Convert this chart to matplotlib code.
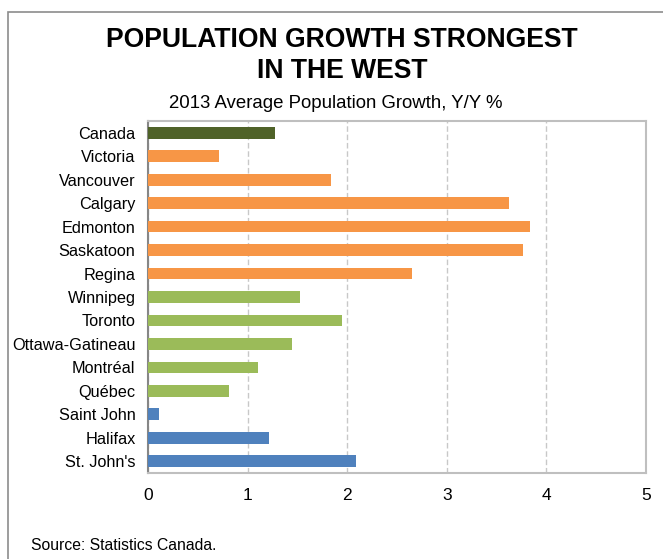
import matplotlib
matplotlib.use('Agg')
import matplotlib.pyplot as plt
from matplotlib.patches import Rectangle

plt.rcParams['font.family'] = ['Liberation Sans', 'DejaVu Sans']

# Cities top to bottom, with 2013 y/y population growth (%)
cities = ["Canada", "Victoria", "Vancouver", "Calgary", "Edmonton", "Saskatoon",
          "Regina", "Winnipeg", "Toronto", "Ottawa-Gatineau", "Montréal",
          "Québec", "Saint John", "Halifax", "St. John's"]
growth = [1.28, 0.71, 1.84, 3.62, 3.84, 3.77, 2.65, 1.53, 1.95, 1.45, 1.10,
          0.81, 0.11, 1.21, 2.09]
region = ["national", "west", "west", "west", "west", "west", "west",
          "central", "central", "central", "central", "central",
          "atlantic", "atlantic", "atlantic"]
xticks = [0, 1, 2, 3, 4, 5]

REGION_COLORS = {
    "national": "#4F6228",
    "west": "#F79646",
    "central": "#9BBB59",
    "atlantic": "#4F81BD",
}

fig = plt.figure(figsize=(6.63, 5.59), dpi=100)
ax = fig.add_axes([148 / 663, 1 - 473 / 559, 498 / 663, 352 / 559])

ypos = list(range(len(cities)))
ax.barh(ypos, growth, height=0.5, color=[REGION_COLORS[r] for r in region], zorder=3)

ax.set_ylim(len(cities) - 0.5, -0.5)
ax.set_xlim(0, 5)
ax.set_yticks(ypos)
ax.set_yticklabels(cities, fontsize=11.7)
ax.set_xticks(xticks)
ax.set_xticklabels([str(t) for t in xticks], fontsize=12.5)
ax.tick_params(axis='both', length=0)
ax.tick_params(axis='y', pad=9)
ax.tick_params(axis='x', pad=11)

ax.xaxis.grid(True, linestyle=(0, (4, 2)), color='#C8C8C8', linewidth=1, zorder=0)
ax.yaxis.grid(False)
for side in ['top', 'right', 'bottom']:
    ax.spines[side].set_color('#BFBFBF')
    ax.spines[side].set_linewidth(1.5)
ax.spines['left'].set_color('#868686')
ax.spines['left'].set_linewidth(1.5)

fig.text(0.516, 1 - 40 / 559, "POPULATION GROWTH STRONGEST",
         ha='center', va='center', fontsize=19.1, fontweight='bold')
fig.text(0.516, 1 - 71 / 559, "IN THE WEST",
         ha='center', va='center', fontsize=19.1, fontweight='bold')
fig.text(0.506, 1 - 104 / 559, "2013 Average Population Growth, Y/Y %",
         ha='center', va='center', fontsize=13.4)
fig.text(31 / 663, 1 - 545 / 559, "Source: Statistics Canada.",
         ha='left', va='center', fontsize=11.3)

# outer frame, running off the right and bottom edges
fig.patches.append(Rectangle((8 / 663, -0.1), 1.0, 1 - 12 / 559 + 0.1,
                             transform=fig.transFigure, fill=False,
                             edgecolor='#8C8C8C', linewidth=1.2))

plt.savefig('out.png', dpi=100, facecolor='white')
plt.close()
